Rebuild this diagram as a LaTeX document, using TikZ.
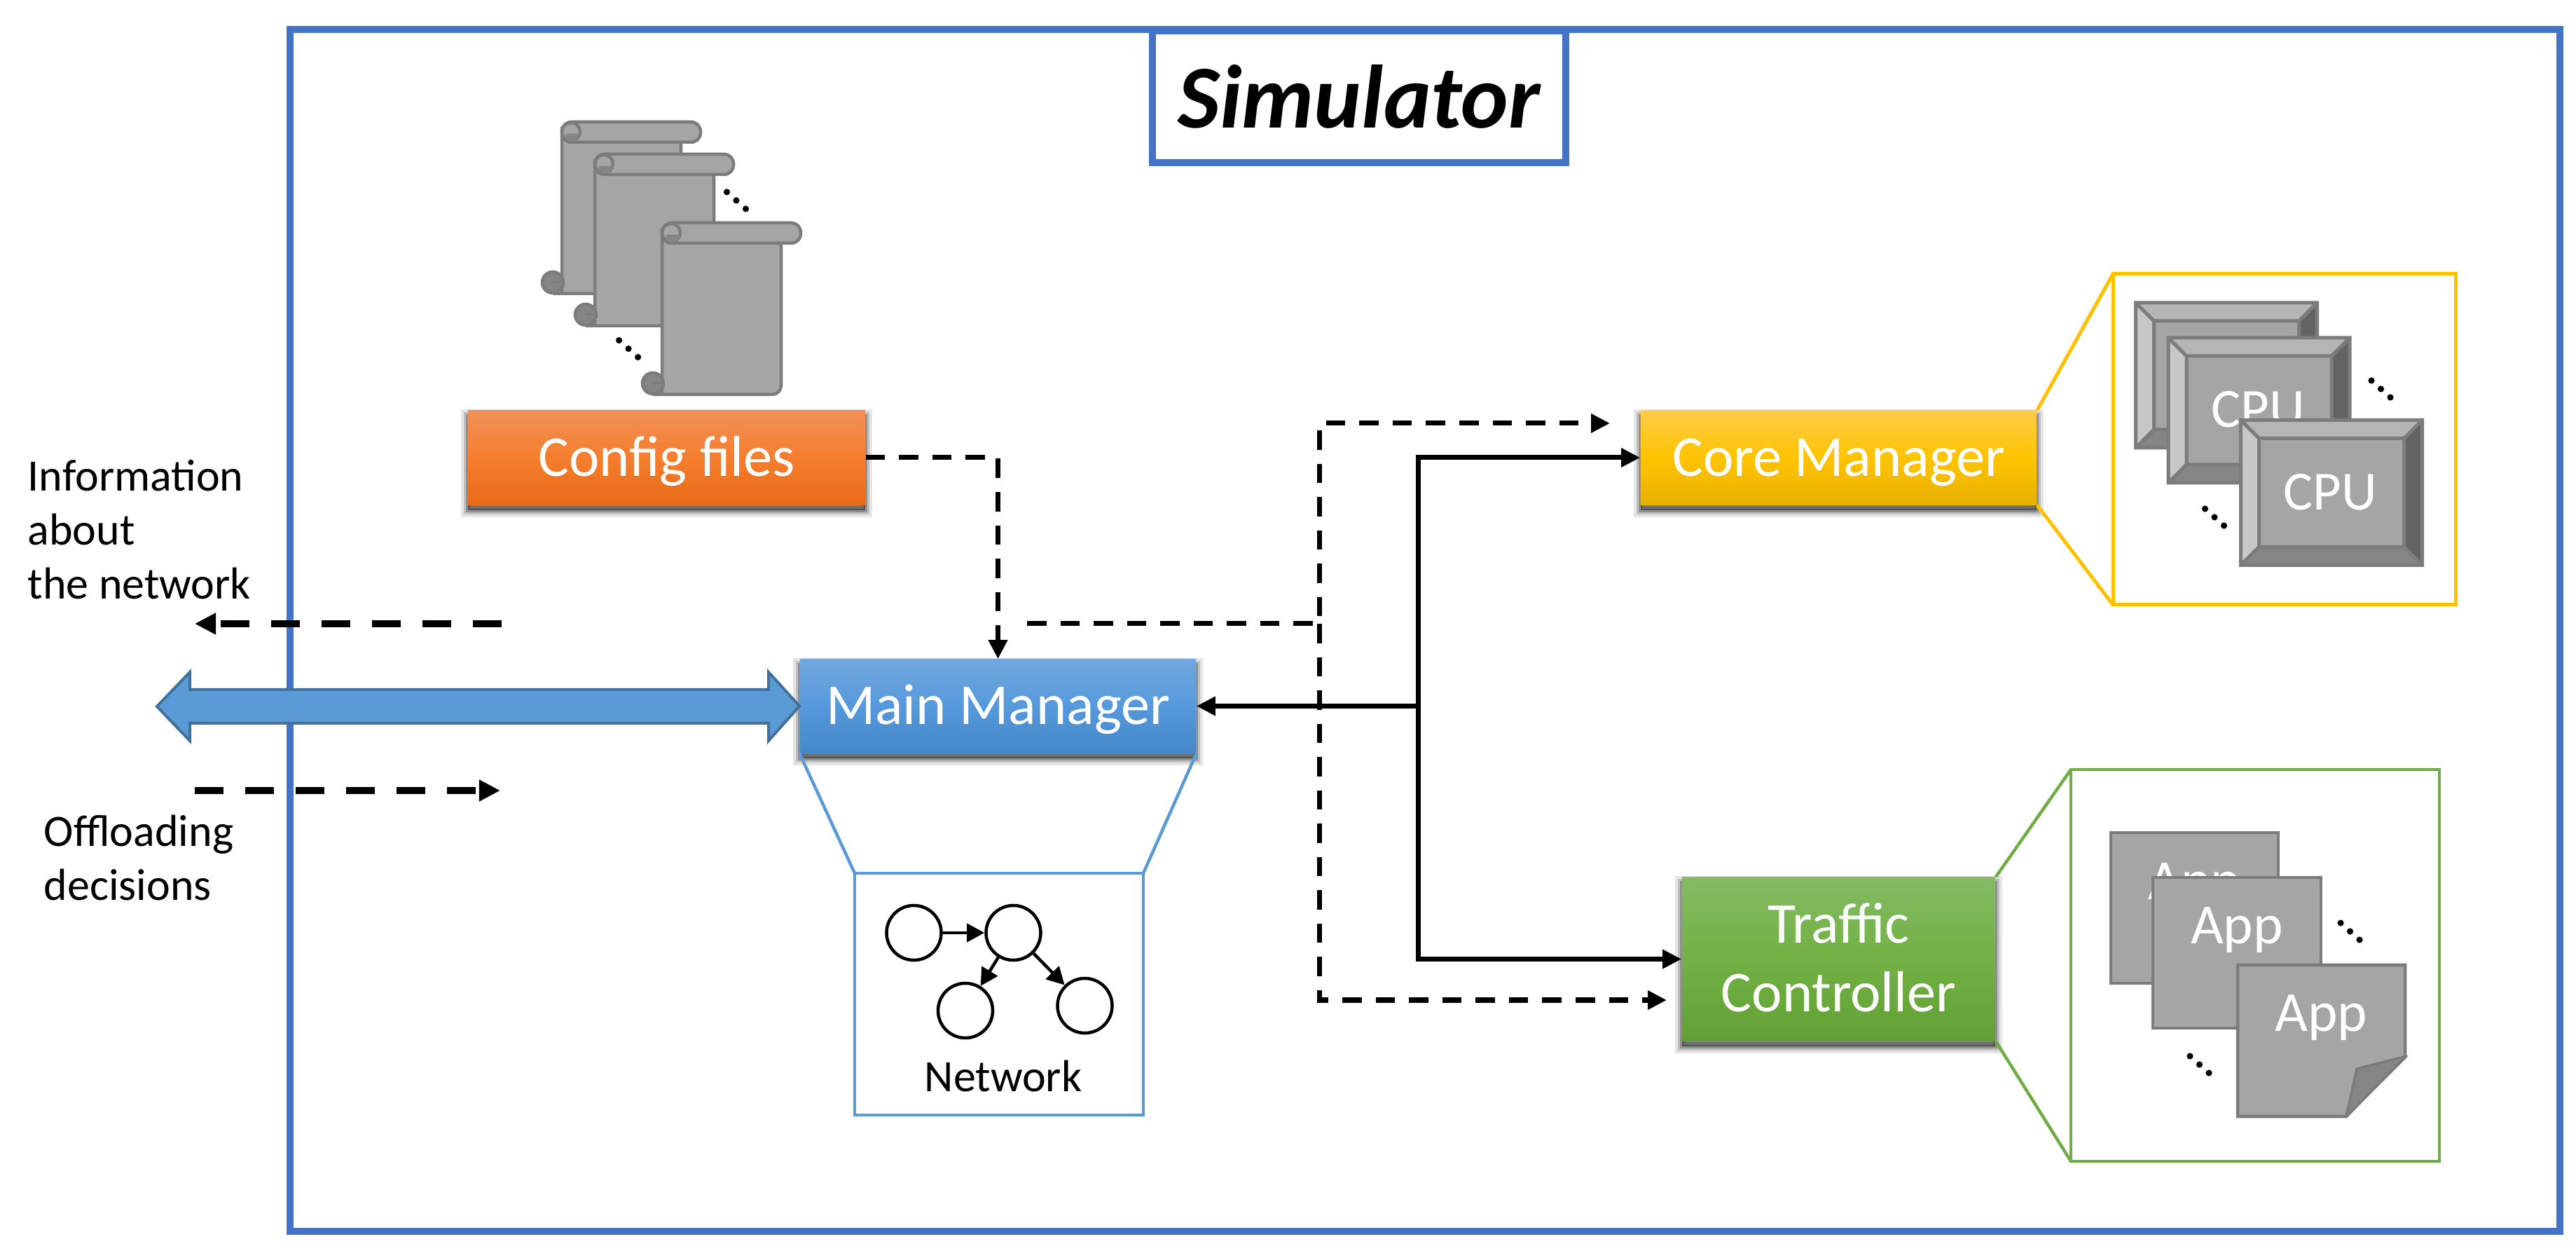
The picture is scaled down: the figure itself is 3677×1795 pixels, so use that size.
\documentclass[tikz,border=0pt]{standalone}
\usepackage{fontspec}
\setmainfont{Carlito}
\usetikzlibrary{arrows.meta,shadows,positioning}

\definecolor{frameblue}{HTML}{4472C4}
\definecolor{netblue}{HTML}{5B9BD5}
\definecolor{linkblue}{HTML}{41719C}
\definecolor{coreyellow}{HTML}{FFC000}
\definecolor{appgreen}{HTML}{70AD47}
\definecolor{iconfill}{HTML}{A5A5A5}
\definecolor{iconline}{HTML}{7C7C7C}
\definecolor{icondark}{HTML}{858585}

\tikzset{
  softshadow/.style={
    general shadow={shadow xshift=0cm,shadow yshift=-0.08cm,fill=black,draw=black,line width=0.2cm,opacity=.1},
    general shadow={shadow xshift=0cm,shadow yshift=-0.08cm,fill=black,draw=black,line width=0.12cm,opacity=.16},
    general shadow={shadow xshift=0cm,shadow yshift=-0.08cm,fill=black,draw=black,line width=0.05cm,opacity=.25}},
  block/.style={rectangle,inner sep=0pt,text=white,align=center,softshadow,
    text height=0.52cm,text depth=0cm,font=\fontsize{23.4}{27.9}\selectfont},
  solidlink/.style={line width=0.07cm,-{Triangle[length=0.27cm,width=0.26cm]}},
  dashlink/.style={line width=0.07cm,dash pattern=on 0.275cm off 0.2cm,-{Triangle[length=0.27cm,width=0.26cm]}},
  extlink/.style={line width=0.095cm,dash pattern=on 0.41cm off 0.31cm,-{Triangle[length=0.3cm,width=0.29cm]}},
  outertext/.style={anchor=base west,align=left,inner sep=0pt,font=\fontsize{18.2}{21.9}\selectfont},
  iconpart/.style={draw=iconline,fill=iconfill,line width=0.045cm},
  icontext/.style={text=white,inner sep=0pt,anchor=base,font=\fontsize{23}{26}\selectfont},
  netnode/.style={circle,draw,line width=0.045cm,minimum size=0.78cm,inner sep=0pt},
  netlink/.style={line width=0.045cm,-{Triangle[length=0.25cm,width=0.26cm]}},
  % three little dots that mean "and so on"
  moredots/.pic={
    \foreach \i in {0,1,2}
      \fill (13.5*\i,12*\i) circle[radius=4.6];
  },
  scrollicon/.pic={
    \draw[iconpart] (0,14) -- (0,245) -- (-13,245) -- (155,245) [rounded corners=0.13cm] -- (170,245) -- (170,20) -- (0,20) -- cycle;
    \draw[iconpart,fill=icondark] (-13,229) ellipse[x radius=15,y radius=15];
    \draw[iconline,line width=0.03cm] (-13,229) -- (2,229) (0,213) -- (0,229);
    \draw[iconpart,rounded corners=0.135cm] (100,0) -- (198,0) -- (198,29) -- (0,29) -- (0,0) -- cycle;
    \draw[iconpart] (13,14) circle[radius=13];
    \fill[icondark] (6,17) -- (26,17) .. controls (25,24) and (20,28) .. (13,28) .. controls (8,28) and (5,23) .. (6,17);
    \draw[iconpart,fill=none] (13,29) -- (100,29);
  },
  cpuicon/.pic={
    \fill[iconfill] (26,26) rectangle (233,181);
    \fill[fill=black!29] (0,0) -- (259,0) -- (233,26) -- (26,26) -- cycle;
    \fill[fill=black!22] (0,0) -- (26,26) -- (26,181) -- (0,207) -- cycle;
    \fill[fill=black!61] (259,0) -- (233,26) -- (233,181) -- (259,207) -- cycle;
    \fill[fill=black!48] (0,207) -- (26,181) -- (233,181) -- (259,207) -- cycle;
    \draw[draw=iconline,line width=0.05cm] (0,0) rectangle (259,207) (26,26) rectangle (233,181)
      (0,0) -- (26,26) (259,0) -- (233,26) (0,207) -- (26,181) (259,207) -- (233,181);
    \node[icontext,font=\fontsize{22.4}{26}\selectfont] at (128,128) {CPU};
  },
}

\begin{document}
\begin{tikzpicture}[x=0.01cm,y=-0.01cm]
\useasboundingbox (0,0) rectangle (3677,1795);

% frame and title
\draw[frameblue,line width=0.1cm] (414,42) rectangle (3654,1757);
\node[draw=frameblue,fill=white,line width=0.1cm,minimum width=5.9cm,minimum height=1.88cm,inner sep=0pt,
  font=\fontsize{36.5}{40}\selectfont\bfseries\itshape] (title) at (1940,138) {Simulator};

% blocks
\node[block,minimum width=5.67cm,minimum height=1.34cm,top color={rgb,255:red,243;green,144;blue,88},bottom color={rgb,255:red,232;green,106;blue,21},middle color={rgb,255:red,245;green,126;blue,45}] (config) at (951.5,653) {Config files};
\node[block,minimum width=5.65cm,minimum height=1.33cm,top color={rgb,255:red,114;green,168;blue,220},bottom color={rgb,255:red,70;green,136;blue,200},middle color={rgb,255:red,85;green,153;blue,220}] (mainmgr) at (1424.5,1007.5) {Main Manager};
\node[block,minimum width=5.65cm,minimum height=1.34cm,top color={rgb,255:red,255;green,203;blue,74},bottom color={rgb,255:red,230;green,176;blue,0},middle color={rgb,255:red,255;green,196;blue,0}] (coremgr) at (2624.5,653) {Core Manager};
\node[block,minimum width=4.47cm,minimum height=2.33cm,text height=1.5cm,top color={rgb,255:red,132;green,187;blue,99},bottom color={rgb,255:red,97;green,160;blue,50},middle color={rgb,255:red,114;green,177;blue,67}] (traffic) at (2624.5,1368.5) {Traffic\\Controller};

% config scrolls
\foreach \sx/\sy in {802/174,849/220,945/318}
  \pic at (\sx,\sy) {scrollicon};
\pic at (1037.5,274) {moredots};
\pic at (883.6,485.6) {moredots};

% links on the left
\coordinate (infoin) at (716,890);
\coordinate (infoout) at (278,890);
\coordinate (decin) at (278,1128);
\coordinate (decout) at (714,1128);
\coordinate (extend) at (224,1008);
\draw[extlink] (infoin) -- (infoout);
\draw[extlink] (decin) -- (decout);
\draw[fill=netblue,draw=linkblue,line width=0.04cm,line join=miter] (extend) -- ++(47,-49) -- ++(0,25) -- (1097,984) -- (1097,959)
  -- (mainmgr.west) -- (1097,1057) -- (1097,1032) -- (271,1032) -- (271,1057) -- cycle;
\node[outertext] (infotxt) at (39,855) {Information\\about\\the network};
\node[outertext] (dectxt) at (62,1285) {Offloading\\decisions};

% links in the middle
\coordinate (dashfrom) at (1466,890);
\coordinate (dashmid) at (1883,890);
\coordinate (dashup) at (1883,604);
\coordinate (dashdown) at (1883,1427);
\coordinate (coretip) at (2298,604);
\coordinate (traffictip) at (2379,1427);
\coordinate (solidmid) at (2024.5,1007.5);
\draw[dashlink] (config.east) -| (mainmgr.north);
\draw[dashlink] (dashfrom) -- (dashmid) -- (dashup) -- (coretip);
\draw[dashlink] (dashmid) -- (dashdown) -- (traffictip);
\draw[solidlink] (solidmid) -- (mainmgr.east);
\draw[solidlink] (solidmid) |- (coremgr.west);
\draw[solidlink] (solidmid) |- (traffic.west);

% network box
\draw[netblue,line width=0.045cm] (mainmgr.south west) -- (1220,1246) (mainmgr.south east) -- (1632,1246);
\draw[netblue,line width=0.045cm,fill=white] (1220,1246) rectangle (1632,1591);
\node[netnode] (n1) at (1304.5,1331) {};
\node[netnode] (n2) at (1446.5,1331) {};
\node[netnode] (n3) at (1378,1442) {};
\node[netnode] (n4) at (1548.5,1435) {};
\draw[netlink] (n1) -- (n2);
\draw[netlink] (n2) -- (n3);
\draw[netlink] (n2) -- (n4);
\node[inner sep=0pt,font=\fontsize{18.2}{20}\selectfont] (nettxt) at (1432,1536) {Network};

% cores
\draw[coreyellow,line width=0.05cm] (coremgr.north east) -- (3016,391) (coremgr.south east) -- (3016,863);
\draw[coreyellow,line width=0.05cm,fill=white] (3016,391) rectangle (3505,863);
\foreach \sx/\sy in {3048.5/432,3095/482,3198.5/599.5}
  \pic at (\sx,\sy) {cpuicon};
\pic at (3385,543) {moredots};
\pic at (3147.5,726) {moredots};

% apps
\draw[appgreen,line width=0.045cm] (traffic.north east) -- (2956,1098) (traffic.south east) -- (2956,1657);
\draw[appgreen,line width=0.045cm,fill=white] (2956,1098) rectangle (3482,1657);
\draw[iconpart] (3013,1188) rectangle (3252,1403);
\node[icontext] (app1) at (3132.5,1284) {App};
\draw[iconpart] (3073,1252) rectangle (3313,1467);
\node[icontext] (app2) at (3193,1347) {App};
\draw[iconpart] (3194,1377) -- (3433,1377) -- (3433,1507) -- (3349,1593) -- (3194,1593) -- cycle;
\node[icontext] (app3) at (3313.5,1471.5) {App};
\draw[draw=iconline,fill=icondark,line width=0.035cm,line join=round] (3435,1507) -- (3364,1525) -- (3349,1593) -- cycle;
\pic at (3341,1317) {moredots};
\pic at (3126,1507) {moredots};

\end{tikzpicture}
\end{document}
